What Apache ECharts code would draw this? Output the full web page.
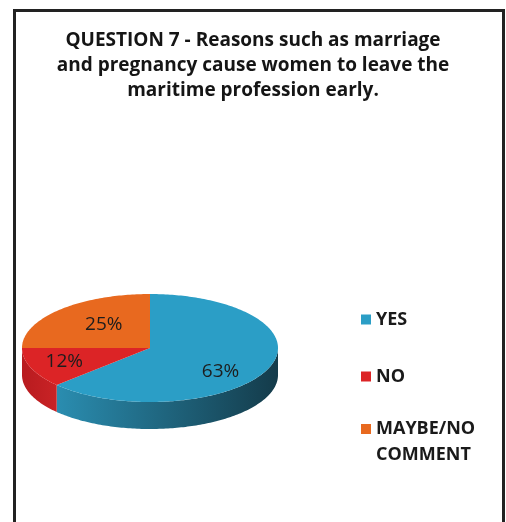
<!DOCTYPE html>
<html>
<head>
<meta charset="utf-8">
<script src="https://cdn.jsdelivr.net/npm/echarts@6/dist/echarts.min.js"></script>
<style>
  html, body { margin: 0; padding: 0; background: #ffffff; }
  #chart { width: 506px; height: 522px; }
</style>
</head>
<body>
<div id="chart"></div>
<script>
// Survey answers, in percent
const titleLines = [
  'QUESTION 7 - Reasons such as marriage',
  'and pregnancy cause women to leave the',
  'maritime profession early.'
];
const categories = ['YES', 'NO', 'MAYBE/NO COMMENT'];
const shares = [63, 12, 25];
const legendLabels = ['YES', 'NO', 'MAYBE/NO\nCOMMENT'];

// Styling of each slice: top face and the lit / shaded ends of its rim
const topColors = ['#2b9ec6', '#dc2426', '#e8691f'];
const rimColors = [['#2a8db0', '#143b4a'], ['#b81b1f', '#c92326'], ['#d15a18', '#b04a12']];

// Tilted-disc geometry (pixels)
const disc = { cx: 150, cy: 348, rx: 128, ry: 54, depth: 27 };
// Where each percentage label sits inside its slice (fractions of the radii)
const labelReachX = [0.6, 0.72, 0.51];
const labelReachY = [1.12, 0.70, 0.60];

const total = shares.reduce((a, b) => a + b, 0);
const startAngles = shares.map((_, i) =>
  shares.slice(0, i).reduce((a, b) => a + b, 0) / total * Math.PI * 2);

function rimPoint(theta, drop) {
  return [disc.cx + disc.rx * Math.sin(theta), disc.cy - disc.ry * Math.cos(theta) + drop];
}

function arcPoints(a1, a2, drop) {
  const pts = [];
  const steps = Math.max(2, Math.ceil((a2 - a1) / (Math.PI / 180)));
  for (let k = 0; k <= steps; k++) {
    pts.push(rimPoint(a1 + (a2 - a1) * k / steps, drop));
  }
  return pts;
}

function renderSlice(params, api) {
  const i = params.seriesIndex;
  const value = api.value(0);
  const a1 = startAngles[i];
  const a2 = a1 + value / total * Math.PI * 2;
  const children = [];

  // front rim: only the part facing the viewer (pi/2 .. 3pi/2)
  const s = Math.max(a1, Math.PI / 2);
  const e = Math.min(a2, Math.PI * 3 / 2);
  if (e > s) {
    const upper = arcPoints(s, e, 0);
    const lower = arcPoints(s, e, disc.depth).reverse();
    children.push({
      type: 'polygon',
      z2: 1,
      shape: { points: upper.concat(lower) },
      style: {
        fill: new echarts.graphic.LinearGradient(0, 0, 1, 0, [
          { offset: 0, color: rimColors[i][0] },
          { offset: 1, color: rimColors[i][1] }
        ]),
        stroke: null
      }
    });
  }

  // top face
  children.push({
    type: 'polygon',
    z2: 10,
    shape: { points: [[disc.cx, disc.cy]].concat(arcPoints(a1, a2, 0)) },
    style: { fill: topColors[i], stroke: null }
  });

  // percentage label
  const mid = (a1 + a2) / 2;
  children.push({
    type: 'text',
    z2: 20,
    x: disc.cx + disc.rx * Math.sin(mid) * labelReachX[i],
    y: disc.cy - disc.ry * Math.cos(mid) * labelReachY[i],
    style: {
      text: value + '%',
      fontFamily: 'Open Sans',
      fontSize: 19,
      fill: '#1d1d1d',
      align: 'center',
      verticalAlign: 'middle'
    }
  });

  return { type: 'group', children: children };
}

const legendText = {
  fontFamily: 'Open Sans',
  fontWeight: 'bold',
  fontSize: 18,
  color: '#1a1a1a'
};
const legendBase = {
  orient: 'vertical',
  left: 361,
  padding: 0,
  icon: 'rect',
  itemWidth: 10,
  itemHeight: 10,
  selectedMode: false
};

const chart = echarts.init(document.getElementById('chart'), null, { renderer: 'canvas' });

chart.setOption({
  animation: false,
  backgroundColor: '#ffffff',
  title: {
    text: titleLines.join('\n'),
    left: 'center',
    top: 23,
    textStyle: {
      fontFamily: 'Open Sans',
      fontWeight: 'bold',
      fontSize: 19,
      lineHeight: 25,
      color: '#151515'
    }
  },
  legend: [
    Object.assign({}, legendBase, {
      top: 309,
      itemGap: 36,
      data: categories.slice(0, 2),
      formatter: name => legendLabels[categories.indexOf(name)],
      textStyle: Object.assign({ lineHeight: 21 }, legendText)
    }),
    Object.assign({}, legendBase, {
      // leading blank line keeps the first text line level with the swatch
      top: 390,
      data: categories.slice(2),
      formatter: name => '\n' + legendLabels[categories.indexOf(name)],
      textStyle: Object.assign({ lineHeight: 26 }, legendText)
    })
  ],
  graphic: [{
    type: 'rect',
    shape: { x: 14.5, y: 10.5, width: 489, height: 540 },
    style: { fill: null, stroke: '#222222', lineWidth: 3 },
    silent: true
  }],
  series: categories.map((name, i) => ({
    type: 'custom',
    name: name,
    coordinateSystem: 'none',
    silent: true,
    itemStyle: { color: topColors[i] },
    data: [[shares[i]]],
    renderItem: renderSlice
  }))
});
</script>
</body>
</html>
